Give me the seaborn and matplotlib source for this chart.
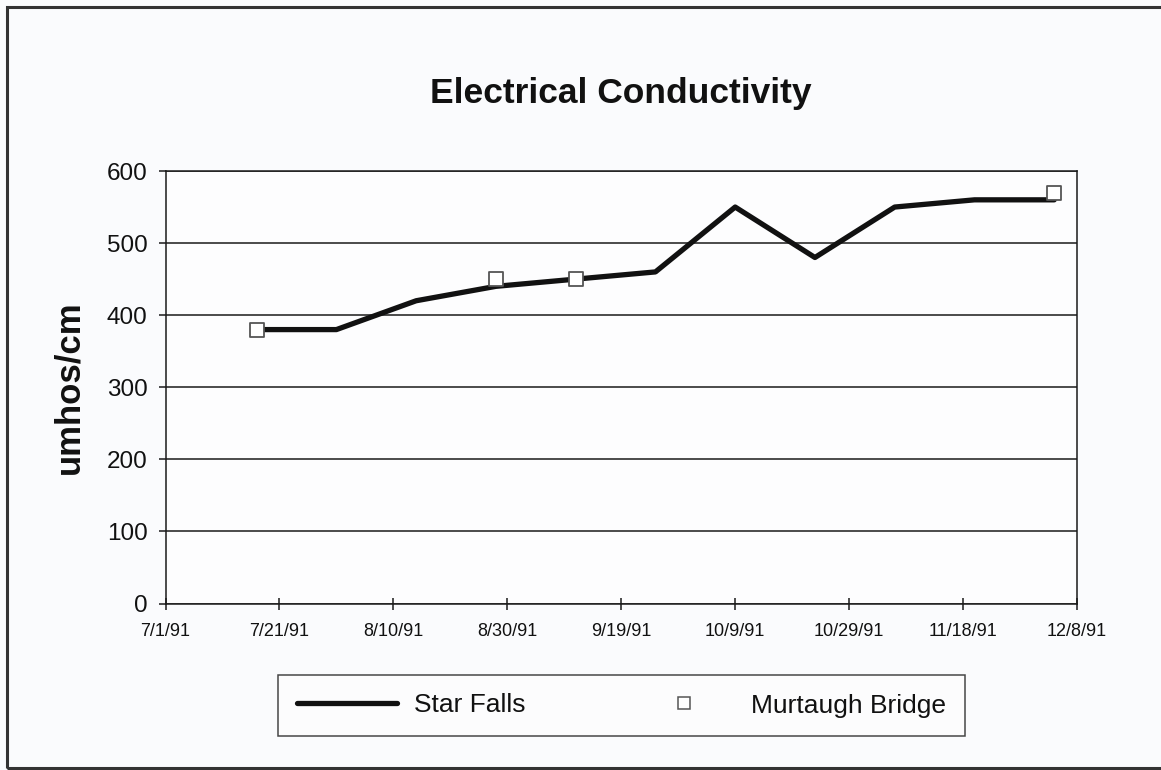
import matplotlib
matplotlib.use("Agg")
import matplotlib.pyplot as plt
import matplotlib.patches as mpatches
from matplotlib.lines import Line2D
import pandas as pd
import seaborn as sns

# Sampling dates and conductivity readings (umhos/cm)
star_falls_dates = ["1991-07-17", "1991-07-31", "1991-08-14", "1991-08-28",
                    "1991-09-11", "1991-09-25", "1991-10-09", "1991-10-23",
                    "1991-11-06", "1991-11-20", "1991-12-04"]
star_falls_values = [380, 380, 420, 440, 450, 460, 550, 480, 550, 560, 560]

murtaugh_dates = ["1991-07-17", "1991-08-28", "1991-09-11", "1991-12-04"]
murtaugh_values = [380, 450, 450, 570]

x_tick_labels = ["7/1/91", "7/21/91", "8/10/91", "8/30/91", "9/19/91",
                 "10/9/91", "10/29/91", "11/18/91", "12/8/91"]
y_ticks = [0, 100, 200, 300, 400, 500, 600]

sns.set_style("white")
plt.rcParams["font.family"] = ["Liberation Sans", "DejaVu Sans"]
plt.rcParams["text.color"] = "#111111"
plt.rcParams["axes.labelcolor"] = "#111111"
plt.rcParams["xtick.color"] = "#111111"
plt.rcParams["ytick.color"] = "#111111"

star = pd.DataFrame({"date": pd.to_datetime(star_falls_dates),
                     "value": star_falls_values})
murt = pd.DataFrame({"date": pd.to_datetime(murtaugh_dates),
                     "value": murtaugh_values})

W, H = 1161, 770
fig = plt.figure(figsize=(W / 100, H / 100), dpi=100)
fig.patch.set_facecolor("#fafbfd")

# outer chart frame
fig.patches.append(mpatches.Rectangle((7 / W, 1 - 768 / H), 1.2, (768 - 7) / H,
                                      transform=fig.transFigure, fill=False,
                                      edgecolor="#333333", linewidth=2.2))

ax = fig.add_axes([165.5 / W, 1 - 603.5 / H, (1077 - 165.5) / W, (603.5 - 171) / H])
ax.set_facecolor("#fdfdfe")

sns.lineplot(data=star, x="date", y="value", ax=ax, color="#111111",
             linewidth=3.8, zorder=3)
sns.scatterplot(data=murt, x="date", y="value", ax=ax, marker="s", s=110,
                facecolor="white", edgecolor="#555555", linewidth=1.3, zorder=4)

tick_dates = pd.date_range("1991-07-01", periods=len(x_tick_labels), freq="20D")
ax.set_xlim(tick_dates[0], tick_dates[-1])
ax.set_xticks(tick_dates)
ax.set_xticklabels(x_tick_labels)
ax.set_ylim(0, 600)
ax.set_yticks(y_ticks)
ax.set_yticklabels([str(v) for v in y_ticks])

ax.yaxis.grid(True, color="#1a1a1a", linewidth=1.1)
ax.set_axisbelow(True)
for s in ax.spines.values():
    s.set_visible(True)
    s.set_color("#1a1a1a")
    s.set_linewidth(1.1)

ax.tick_params(axis="y", direction="out", length=5, width=1.1, color="#1a1a1a",
               labelsize=17.5, pad=8, left=True)
ax.tick_params(axis="x", direction="inout", length=8.5, width=1.1, color="#1a1a1a",
               labelsize=13, pad=10, bottom=True)

ax.set_xlabel("")
ax.set_ylabel("umhos/cm", fontsize=25, fontweight="bold", labelpad=15)
fig.text(621 / W, 1 - 93 / H, "Electrical Conductivity", ha="center",
         va="center", fontsize=25.5, fontweight="bold")

handles = [Line2D([], [], color="#111111", linewidth=3.8),
           Line2D([], [], linestyle="none", marker="s", markersize=8,
                  markerfacecolor="white", markeredgecolor="#555555",
                  markeredgewidth=1.1)]
leg = fig.legend(handles, ["Star Falls", "Murtaugh Bridge"], loc="center",
                 bbox_to_anchor=(621.5 / W, 1 - 705.5 / H), ncol=2,
                 fontsize=19, frameon=True, fancybox=False, shadow=False,
                 handlelength=3.8, handletextpad=0.65, columnspacing=4.1,
                 borderpad=0.7)
leg.get_frame().set_edgecolor("#1a1a1a")
leg.get_frame().set_linewidth(1.1)
leg.get_frame().set_facecolor("#fdfdfe")

fig.savefig("out.png", dpi=100, facecolor=fig.get_facecolor())
